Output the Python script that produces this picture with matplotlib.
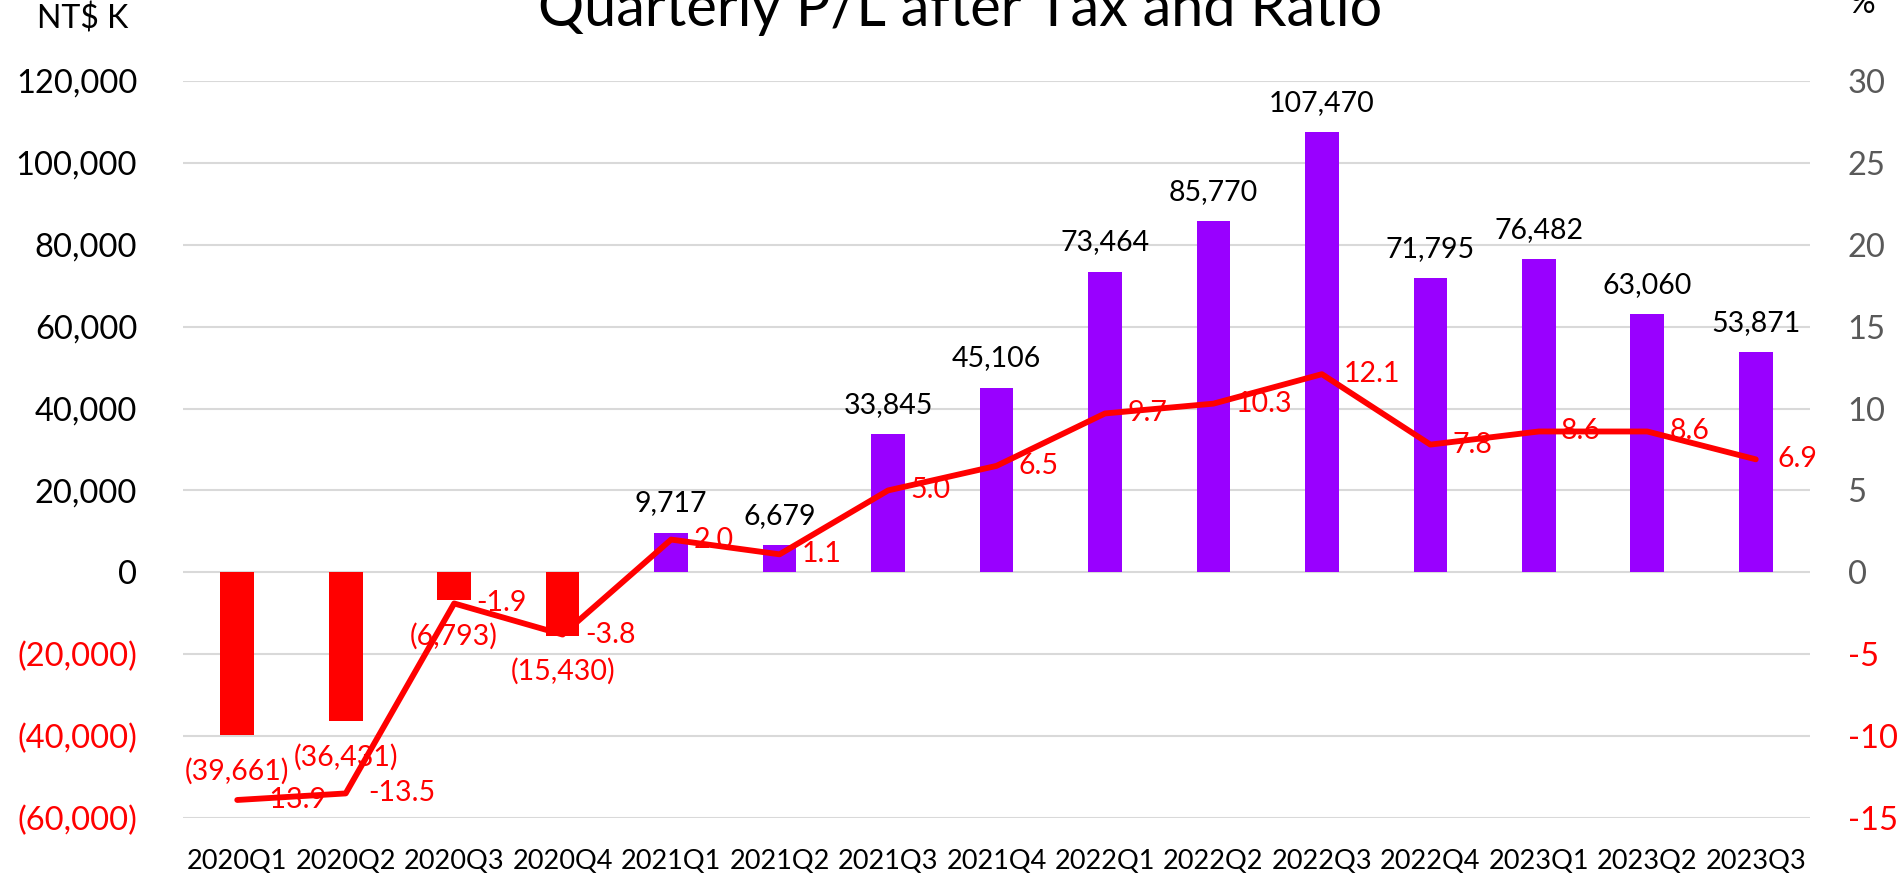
import matplotlib
matplotlib.use("Agg")
import matplotlib.pyplot as plt
import numpy as np

plt.rcParams['font.family'] = ['Lato', 'DejaVu Sans']

categories = ["2020Q1", "2020Q2", "2020Q3", "2020Q4", "2021Q1", "2021Q2", "2021Q3",
              "2021Q4", "2022Q1", "2022Q2", "2022Q3", "2022Q4", "2023Q1", "2023Q2", "2023Q3"]
profit = [-39661, -36431, -6793, -15430, 9717, 6679, 33845, 45106, 73464, 85770,
          107470, 71795, 76482, 63060, 53871]
ratio = [-13.9, -13.5, -1.9, -3.8, 2.0, 1.1, 5.0, 6.5, 9.7, 10.3, 12.1, 7.8, 8.6, 8.6, 6.9]
left_ticks = [-60000, -40000, -20000, 0, 20000, 40000, 60000, 80000, 100000, 120000]
right_ticks = [-15, -10, -5, 0, 5, 10, 15, 20, 25, 30]

PURPLE = "#9900FF"
RED = "#FF0000"
GRID = "#D9D9D9"
GRAYTXT = "#595959"

def fmt_k(v):
    if v < 0:
        return "({:,})".format(-v)
    return "{:,}".format(v)

fig = plt.figure(figsize=(19.01, 8.76), dpi=100)
ax = fig.add_axes([183/1901, 1-818/876, (1810-183)/1901, (818-81)/876])
ax2 = ax.twinx()

x = np.arange(len(categories))
colors = [PURPLE if v >= 0 else RED for v in profit]
ax.bar(x, profit, width=0.31, color=colors, zorder=2)

ax.set_xlim(-0.5, len(categories) - 0.5)
ax.set_ylim(left_ticks[0], left_ticks[-1])
ax.set_yticks(left_ticks)
ax.set_yticklabels([fmt_k(t) for t in left_ticks])
for lbl, t in zip(ax.get_yticklabels(), left_ticks):
    lbl.set_color(RED if t < 0 else "black")
ax.grid(axis='y', color=GRID, linewidth=1.5, zorder=0)
ax.set_axisbelow(True)
ax.set_xticks(x)
ax.set_xticklabels(categories)
ax.tick_params(axis='x', length=0, pad=22, labelsize=19.5, colors='black')
ax.tick_params(axis='y', length=0, pad=33, labelsize=23.5)
for s in ax.spines.values():
    s.set_visible(False)
for s in ax2.spines.values():
    s.set_visible(False)

for xi, v in zip(x, profit):
    if v >= 0:
        ax.annotate(fmt_k(v), (xi, v), xytext=(0, 21), textcoords='offset points',
                    ha='center', va='center', fontsize=20.5, color='black', zorder=5)
    else:
        ax.annotate(fmt_k(v), (xi, v), xytext=(0, -26), textcoords='offset points',
                    ha='center', va='center', fontsize=20.5, color=RED, zorder=5)

ax2.plot(x, ratio, color=RED, linewidth=4.2, solid_joinstyle='round',
         solid_capstyle='round', zorder=3)
ax2.set_ylim(right_ticks[0], right_ticks[-1])
ax2.set_yticks(right_ticks)
ax2.set_yticklabels([str(t) for t in right_ticks])
for lbl, t in zip(ax2.get_yticklabels(), right_ticks):
    lbl.set_color(RED if t < 0 else GRAYTXT)
ax2.tick_params(axis='y', length=0, pad=27, labelsize=23.5)
for xi, r in zip(x, ratio):
    ax2.annotate("{:.1f}".format(r), (xi, r), xytext=(16, 0), textcoords='offset points',
                 ha='left', va='center', fontsize=20.5, color=RED, zorder=5)

fig.text(960/1901, 1-26/876, "Quarterly P/L after Tax and Ratio", ha='center',
         va='baseline', fontsize=41.5, color='black')
fig.text(83/1901, 1-28/876, "NT$ K", ha='center', va='baseline', fontsize=23, color='black')
fig.text(1862/1901, 1-13/876, "%", ha='center', va='baseline', fontsize=23, color='black')

fig.savefig("out.png", dpi=100)
